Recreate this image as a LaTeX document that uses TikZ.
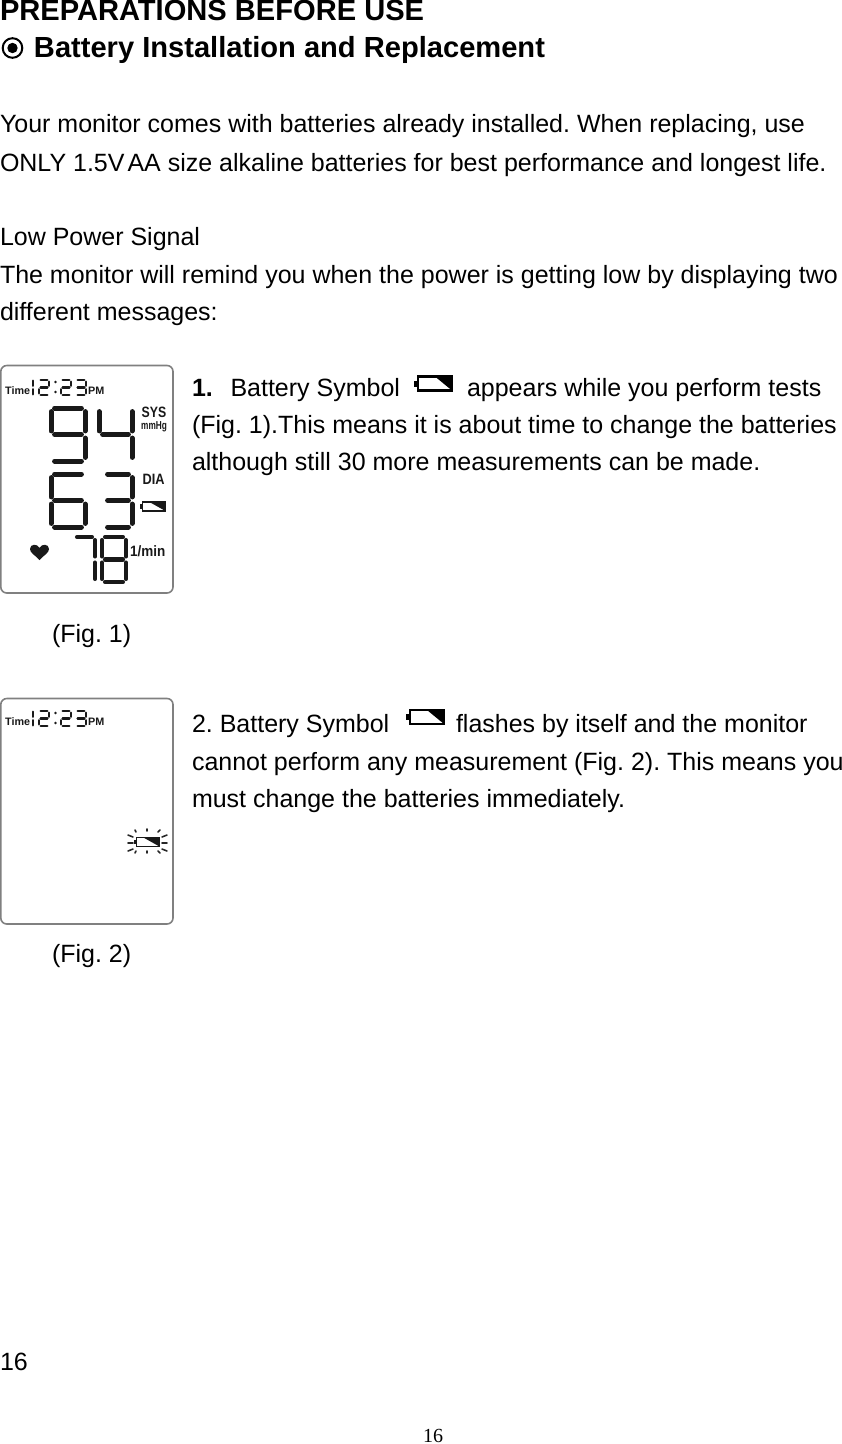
\documentclass[tikz,border=0pt]{standalone}
\usepackage{fontspec}
\setmainfont{Liberation Sans}
\newfontfamily\serifnum{Liberation Serif}
\frenchspacing
\newcommand{\bodyfs}{\fontsize{25}{30}\selectfont}
\newcommand{\headfs}{\fontsize{29.1}{34}\selectfont\bfseries}
\def\done{TR/MR,MR/BR}
\def\dtwo{TL/TR,TR/MR,ML/MR,ML/BL,BL/BR}
\def\dthree{TL/TR,TR/MR,ML/MR,MR/BR,BL/BR}
\def\dfour{TL/ML,TR/MR,ML/MR,MR/BR}
\def\dsix{TL/TR,TL/ML,ML/MR,ML/BL,MR/BR,BL/BR}
\def\dseven{TL/TR,TR/MR,MR/BR}
\def\deight{TL/TR,TL/ML,TR/MR,ML/MR,ML/BL,MR/BR,BL/BR}
\def\dnine{TL/TR,TL/ML,TR/MR,ML/MR,MR/BR,BL/BR}
% x0 x1 y0 y1 linewidth segments
\newcommand{\lcddigit}[6]{%
  \coordinate (TL) at (#1,#3);\coordinate (TR) at (#2,#3);
  \coordinate (ML) at (#1,{(#3+#4)/2});\coordinate (MR) at (#2,{(#3+#4)/2});
  \coordinate (BL) at (#1,#4);\coordinate (BR) at (#2,#4);
  \foreach \p/\q in #6 {\draw[lcdseg,line width=#5pt,shorten <=#5*0.72pt,shorten >=#5*0.72pt] (\p) -- (\q);}%
}
\newcommand{\lcdclock}[1]{%
  \begin{scope}[shift={(0,#1)}]
  \node[lcdlabel,font=\fontsize{10.8}{13}\selectfont\bfseries] (timelabel) at (5,394.5) {Time};
  \node[lcdlabel,font=\fontsize{10.8}{13}\selectfont\bfseries] (pmlabel) at (88,394.5) {PM};
  \lcddigit{33}{33}{379}{396}{2.2}{\done}
  \lcddigit{39}{49}{380}{395}{2.2}{\dtwo}
  \fill[lcdfill] (55.5,382) circle (1.4) (55.5,392) circle (1.4);
  \lcddigit{61}{71}{380}{395}{2.2}{\dtwo}
  \lcddigit{76}{86}{380}{395}{2.2}{\dthree}
  \end{scope}}
\newcommand{\lcdbattery}[4]{% x y w h
  \draw[lcdline,line width=1.6pt] (#1,#2) rectangle ++(#3,#4);
  \fill[lcdfill] (#1-3,#2+0.25*#4) rectangle (#1,#2+0.75*#4);
  \fill[lcdfill] (#1+0.3*#3,#2) -- (#1+#3,#2) -- (#1+#3,#2+#4) -- cycle;}
\newcommand{\inlinebattery}[2]{% x y of the body's top left
  \draw[black,line width=2.6pt] (#1,#2) rectangle ++(34,14);
  \fill[black] (#1-4,#2+4) rectangle (#1,#2+10);
  \fill[black] (#1+17,#2) -- (#1+34,#2) -- (#1+34,#2+14) -- cycle;}
\tikzset{
  x=1pt,y=-1pt,
  txt/.style={anchor=base west,inner sep=0pt,outer sep=0pt,font=\bodyfs},
  head/.style={anchor=base west,inner sep=0pt,outer sep=0pt,font=\headfs},
  lcdframe/.style={draw=black!50,line width=1.6pt,rounded corners=6pt,fill=white},
  lcdfill/.style={fill=black!90},
  lcdline/.style={draw=black!90},
  lcdseg/.style={draw=black!90,line cap=round},
  lcdray/.style={draw=black!85,line width=1.6pt,line cap=round},
  lcdlabel/.style={anchor=base west,inner sep=0pt,text=black!90},
}
\begin{document}
\begin{tikzpicture}
\useasboundingbox (0,0) rectangle (842,1444);
\node[head] (t1) at (0,20.5) {PREPARATIONS BEFORE USE};
\draw[line width=2pt] (12.5,48) circle (9.8);
\fill (12.5,48) circle (5.2);
\node[head] (t2) at (34,57) {Battery Installation and Replacement};
\node[txt] (p1) at (0,132) {Your monitor comes with batteries already installed. When replacing, use};
\node[txt] (p2) at (0,171) {ONLY 1.5V\hspace{-4pt} AA size alkaline batteries for best performance and longest life.};
\node[txt] (p3) at (0,245) {Low Power Signal};
\node[txt] (p4) at (0,283) {The monitor will remind you when the power is getting low by displaying two};
\node[txt] (p5) at (0,320) {different messages:};
% Fig 1
\draw[lcdframe] (0.8,365.5) rectangle (173,593);
\lcdclock{0}
\lcddigit{51}{85}{408}{461}{5}{\dnine}
\lcddigit{99}{132}{408}{461}{5}{\dfour}
\lcddigit{51}{85}{474}{527}{5}{\dsix}
\lcddigit{104}{132}{474}{527}{5}{\dthree}
\lcddigit{74}{95}{537}{582}{4.4}{\dseven}
\lcddigit{102}{126}{537}{582}{4.4}{\deight}
\node[lcdlabel,font=\fontsize{15}{16}\selectfont\bfseries,xscale=.82] (sys) at (141.5,417) {SYS};
\node[lcdlabel,font=\fontsize{11.5}{12}\selectfont\bfseries,xscale=.72] (mmhg) at (141,429) {mmHg};
\node[lcdlabel,font=\fontsize{15}{16}\selectfont\bfseries,xscale=.85] (dia) at (142.5,484) {DIA};
\node[lcdlabel,font=\fontsize{15}{16}\selectfont\bfseries,xscale=.9] (permin) at (130,556) {1/min};
\lcdbattery{142.5}{502}{23}{9}
\fill[lcdfill] (39.5,560) .. controls (35,555) and (30,553) .. (30,549) .. controls (30,544) and (37,543) .. (39.5,548) .. controls (42,543) and (49,544) .. (49,549) .. controls (49,553) and (44,555) .. (39.5,560) -- cycle;
\node[txt] (f1) at (52,642) {(Fig. 1)};
\node[txt,font=\bodyfs\bfseries] (n1) at (192,396) {1.};
\node[txt] (a1) at (230.5,396) {Battery Symbol};
\inlinebattery{418}{376.5}
\node[txt] (a2) at (467,396) {appears while you perform tests};
\node[txt] (a3) at (192,433) {(Fig. 1).This means it is about time to change the batteries};
\node[txt] (a4) at (192,470) {although still 30 more measurements can be made.};
% Fig 2
\draw[lcdframe] (0.8,698.5) rectangle (173,924);
\lcdclock{331}
\lcdbattery{136.5}{837.5}{23}{9}
\draw[lcdray] (128,835) -- (133,837) (128,843) -- (133,843) (128,851) -- (133,849);
\draw[lcdray] (162,837) -- (167,835) (162,843) -- (167,843) (162,849) -- (167,851);
\draw[lcdray] (135,830) -- (136,832) (147,829) -- (147,831) (160,830) -- (158,832);
\draw[lcdray] (135,853) -- (136,851) (147,853) -- (147,851) (160,853) -- (158,851);
\node[txt] (f2) at (52,962) {(Fig. 2)};
\node[txt] (b1) at (192,732) {2. Battery Symbol};
\inlinebattery{410}{710}
\node[txt] (b2) at (456,732) {flashes by itself and the monitor};
\node[txt] (b3) at (192,770) {cannot perform any measurement (Fig. 2). This means you};
\node[txt] (b4) at (192,807) {must change the batteries immediately.};
\node[txt] (pg) at (0,1370) {16};
\node[anchor=base west,inner sep=0pt,font=\serifnum\fontsize{20}{24}\selectfont] (pg2) at (423,1442.5) {16};
\end{tikzpicture}
\end{document}
